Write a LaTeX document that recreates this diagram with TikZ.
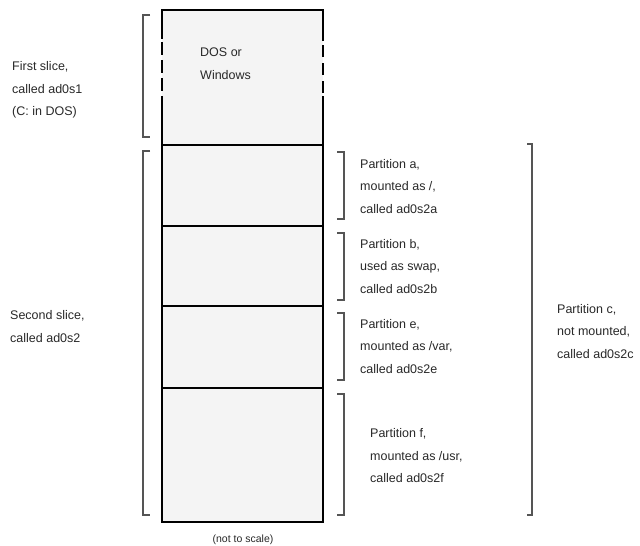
\documentclass[tikz,border=0pt]{standalone}
\usepackage{fontspec}
\setmainfont{Liberation Sans}
\usetikzlibrary{positioning,calc}
\definecolor{slicefill}{RGB}{244,244,244}
\definecolor{brkgray}{RGB}{85,85,85}
\definecolor{txtgray}{RGB}{40,40,40}
\tikzset{
  lbl/.style={inner sep=0pt,align=left,text=txtgray,
    font=\fontsize{12.5}{22.5}\selectfont},
  brk/.style={draw=brkgray,line width=1.1pt},
  rim/.style={line width=2.8pt,line cap=rect},
  cut/.style={line width=1.9pt}
}
\begin{document}
\begin{tikzpicture}[x=1pt,y=-1pt]
  % page frame, pixel units, y grows downwards
  \useasboundingbox (0,0) rectangle (640,546);

  % the disk column: x from 162 to 323
  \coordinate (tl) at (162,10);
  \coordinate (br) at (323,522);
  \fill[slicefill] (tl) rectangle (br);

  % first slice, sides broken (not to scale)
  \draw[rim] (162,38) -- (162,10) -- (323,10) -- (323,40);
  \foreach \ya/\yb in {42/55,60/73,78/91} {
    \draw[rim,line cap=butt] (162,\ya) -- (162,\yb);
    \draw[rim,line cap=butt] (323,\ya+3) -- (323,\yb+2);
  }
  \draw[rim] (162,97) -- (162,522) -- (323,522) -- (323,97);

  % slice / partition boundaries
  \draw[line width=2.5pt] (162,145) -- (323,145);
  \foreach \y in {226,306,388} { \draw[cut] (162,\y) -- (323,\y); }

  \node[lbl,anchor=north west] (dos) at (200,48) {DOS or\\Windows};

  % left brackets: slices
  \draw[brk] (150,15) -- (143,15) -- (143,137) -- (150,137);
  \draw[brk] (150,151) -- (143,151) -- (143,515) -- (150,515);
  \node[lbl,anchor=west] (s1) at (12,90) {First slice,\\called ad0s1\\(C: in DOS)};
  \node[lbl,anchor=west] (s2) at (10,326.5) {Second slice,\\called ad0s2};

  % right brackets: partitions
  \draw[brk] (337,152) -- (344,152) -- (344,219) -- (337,219);
  \draw[brk] (337,233) -- (344,233) -- (344,300) -- (337,300);
  \draw[brk] (337,313) -- (344,313) -- (344,380) -- (337,380);
  \draw[brk] (337,394) -- (344,394) -- (344,515) -- (337,515);
  \node[lbl,anchor=west] (pa) at (360,186.5) {Partition a,\\mounted as /,\\called ad0s2a};
  \node[lbl,anchor=west] (pb) at (360,266.5) {Partition b,\\used as swap,\\called ad0s2b};
  \node[lbl,anchor=west] (pe) at (360,346.5) {Partition e,\\mounted as /var,\\called ad0s2e};
  \node[lbl,anchor=west] (pf) at (370,456) {Partition f,\\mounted as /usr,\\called ad0s2f};

  % whole second slice
  \draw[brk] (527,144) -- (532,144) -- (532,515) -- (527,515);
  \node[lbl,anchor=west] (pc) at (557,331.5) {Partition c,\\not mounted,\\called ad0s2c};

  \node[lbl,font=\fontsize{10.5}{12}\selectfont] (note) at (243,540) {(not to scale)};
\end{tikzpicture}
\end{document}
